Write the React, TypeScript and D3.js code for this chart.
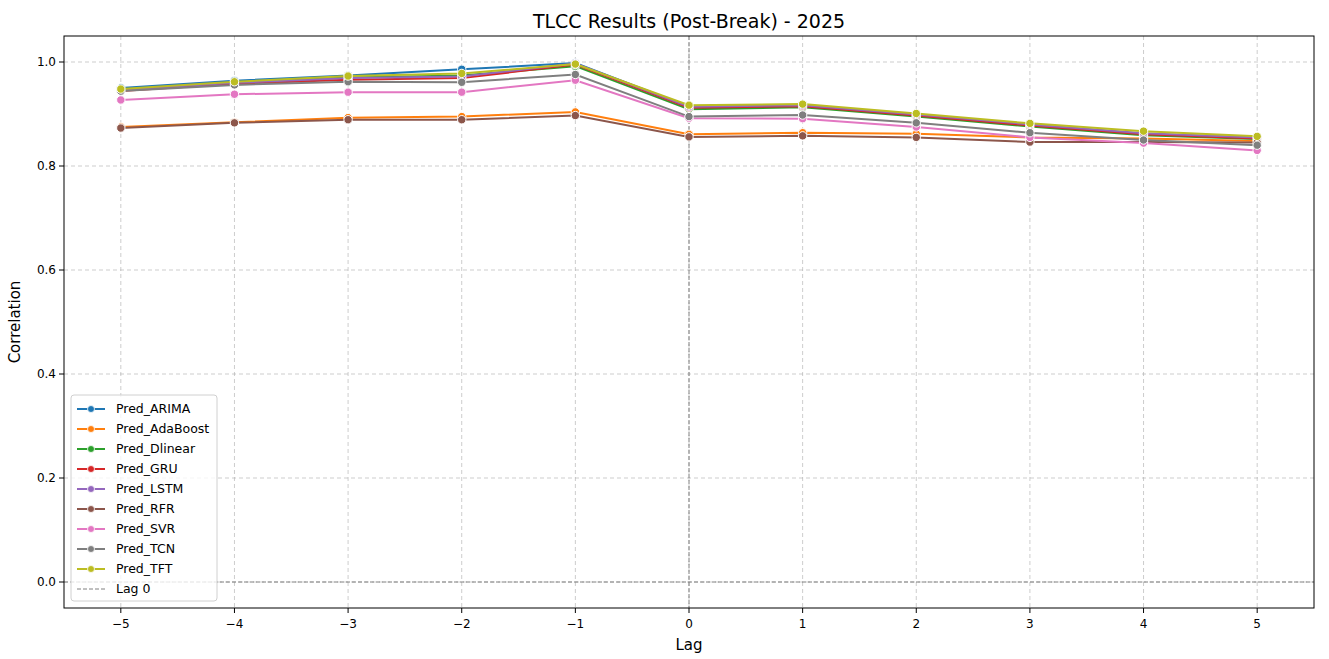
import * as React from "react";
import * as d3 from "d3";

// lags on the x axis
const lags = [-5, -4, -3, -2, -1, 0, 1, 2, 3, 4, 5];

// correlation per model, one value per lag
const predARIMA = [0.950, 0.964, 0.974, 0.986, 0.998, 0.914, 0.917, 0.898, 0.879, 0.862, 0.854];
const predAdaBoost = [0.875, 0.884, 0.893, 0.895, 0.904, 0.861, 0.864, 0.862, 0.855, 0.853, 0.848];
const predDlinear = [0.946, 0.960, 0.970, 0.974, 0.992, 0.909, 0.913, 0.895, 0.876, 0.859, 0.852];
const predGRU = [0.944, 0.958, 0.966, 0.969, 0.995, 0.912, 0.915, 0.897, 0.878, 0.861, 0.853];
const predLSTM = [0.946, 0.960, 0.969, 0.972, 0.997, 0.914, 0.917, 0.899, 0.880, 0.863, 0.855];
const predRFR = [0.873, 0.883, 0.889, 0.889, 0.897, 0.856, 0.858, 0.855, 0.846, 0.846, 0.845];
const predSVR = [0.927, 0.938, 0.942, 0.942, 0.965, 0.892, 0.891, 0.875, 0.855, 0.844, 0.830];
const predTCN = [0.944, 0.956, 0.962, 0.961, 0.976, 0.895, 0.898, 0.883, 0.864, 0.850, 0.840];
const predTFT = [0.948, 0.962, 0.973, 0.978, 0.996, 0.917, 0.919, 0.901, 0.882, 0.867, 0.857];

const seriesNames = ["Pred_ARIMA", "Pred_AdaBoost", "Pred_Dlinear", "Pred_GRU", "Pred_LSTM", "Pred_RFR", "Pred_SVR", "Pred_TCN", "Pred_TFT"];
const seriesValues = [predARIMA, predAdaBoost, predDlinear, predGRU, predLSTM, predRFR, predSVR, predTCN, predTFT];

const yTicks = [0.0, 0.2, 0.4, 0.6, 0.8, 1.0];

const colors = ["#1f77b4", "#ff7f0e", "#2ca02c", "#d62728", "#9467bd", "#8c564b", "#e377c2", "#7f7f7f", "#bcbd22"];

const W = 1329, H = 659;
const margin = {top: 36, right: 15, bottom: 51, left: 64};
const font = "DejaVu Sans, sans-serif";

export default function App() {
    const innerW = W - margin.left - margin.right;
    const innerH = H - margin.top - margin.bottom;

    // set the ranges
    const x = d3.scaleLinear().domain([-5.5, 5.5]).range([0, innerW]);
    const y = d3.scaleLinear().domain([-0.05, 1.05]).range([innerH, 0]);

    const line = d3.line<[number, number]>()
        .x(d => x(d[0]))
        .y(d => y(d[1]));

    const legendX = 7, legendY = innerH - 213;

    return (
        <div style={{position: "absolute", left: 0, top: 0}}>
            <svg width={W} height={H} style={{display: "block", background: "#fff"}}>
                <text x={margin.left + innerW / 2} y={28} textAnchor="middle" fontFamily={font} fontSize={19} fill="#000">
                    TLCC Results (Post-Break) - 2025
                </text>
                <g transform={`translate(${margin.left},${margin.top})`}>
                    {/* grid */}
                    {lags.map(l => (
                        <line key={"gx" + l} x1={x(l)} x2={x(l)} y1={0} y2={innerH} stroke="#b0b0b0" strokeOpacity={0.7} strokeDasharray="4,3" strokeWidth={0.9}/>
                    ))}
                    {yTicks.map(t => (
                        <line key={"gy" + t} x1={0} x2={innerW} y1={y(t)} y2={y(t)} stroke="#b0b0b0" strokeOpacity={0.7} strokeDasharray="4,3" strokeWidth={0.9}/>
                    ))}
                    {/* reference lines */}
                    <line x1={0} x2={innerW} y1={y(0)} y2={y(0)} stroke="#808080" strokeDasharray="4,2" strokeWidth={1}/>
                    <line x1={x(0)} x2={x(0)} y1={0} y2={innerH} stroke="#808080" strokeDasharray="4,2" strokeWidth={1}/>

                    {/* series */}
                    {seriesValues.map((vals, i) => {
                        const pts = lags.map((l, j) => [l, vals[j]] as [number, number]);
                        return (
                            <g key={seriesNames[i]}>
                                <path d={line(pts) || ""} fill="none" stroke={colors[i]} strokeWidth={2}/>
                                {pts.map((p, j) => (
                                    <circle key={j} cx={x(p[0])} cy={y(p[1])} r={4.2} fill={colors[i]} stroke="#fff" strokeWidth={1}/>
                                ))}
                            </g>
                        );
                    })}

                    {/* frame */}
                    <rect x={0} y={0} width={innerW} height={innerH} fill="none" stroke="#000" strokeWidth={1}/>

                    {/* x axis */}
                    {lags.map(l => (
                        <g key={"xt" + l} transform={`translate(${x(l)},${innerH})`}>
                            <line y2={5} stroke="#000"/>
                            <text y={20} textAnchor="middle" fontFamily={font} fontSize={12} fill="#000">
                                {l < 0 ? "\u2212" + Math.abs(l) : String(l)}
                            </text>
                        </g>
                    ))}
                    <text x={innerW / 2} y={innerH + 42} textAnchor="middle" fontFamily={font} fontSize={15} fill="#000">Lag</text>

                    {/* y axis */}
                    {yTicks.map(t => (
                        <g key={"yt" + t} transform={`translate(0,${y(t)})`}>
                            <line x2={-5} stroke="#000"/>
                            <text x={-8} dy="0.35em" textAnchor="end" fontFamily={font} fontSize={12} fill="#000">{t.toFixed(1)}</text>
                        </g>
                    ))}
                    <text transform={`translate(${-44},${innerH / 2}) rotate(-90)`} textAnchor="middle" fontFamily={font} fontSize={15} fill="#000">Correlation</text>

                    {/* legend */}
                    <g transform={`translate(${legendX},${legendY})`}>
                        <rect x={0} y={0} width={146} height={206} rx={3} fill="#fff" fillOpacity={0.8} stroke="#d0d0d0"/>
                        {seriesNames.map((n, i) => (
                            <g key={n} transform={`translate(0,${14 + i * 20})`}>
                                <line x1={6} x2={34} stroke={colors[i]} strokeWidth={2}/>
                                <circle cx={20} cy={0} r={3.5} fill={colors[i]} stroke="#fff" strokeWidth={0.8}/>
                                <text x={45} dy="0.35em" fontFamily={font} fontSize={12.5} fill="#000">{n}</text>
                            </g>
                        ))}
                        <g transform={`translate(0,${14 + 9 * 20})`}>
                            <line x1={6} x2={34} stroke="#808080" strokeDasharray="4,2" strokeWidth={1}/>
                            <text x={45} dy="0.35em" fontFamily={font} fontSize={12.5} fill="#000">Lag 0</text>
                        </g>
                    </g>
                </g>
            </svg>
        </div>
    );
}
